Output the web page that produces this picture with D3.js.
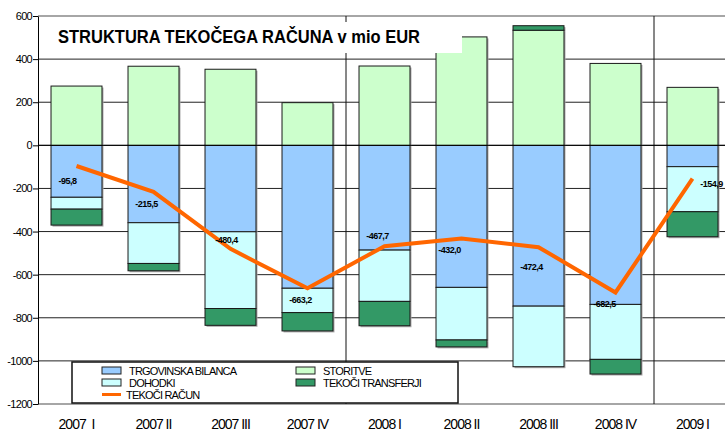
<!DOCTYPE html>
<html>
<head>
<meta charset="utf-8">
<script src="https://cdn.jsdelivr.net/npm/d3@7"></script>
<style>
  body { margin: 0; background: #fff; }
  svg { display: block; font-family: Arial, "Liberation Sans", sans-serif; }
</style>
</head>
<body>
<svg width="725" height="432"></svg>
<script>
// quarters
const quarters = ['2007  I', '2007 II', '2007 III', '2007 IV', '2008 I', '2008 II', '2008 III', '2008 IV', '2009 I'];

// components of the current account, mio EUR
const trgovinska = [-241, -359, -401, -663, -486, -659, -746, -738, -99];
const storitve = [275, 367, 353, 198, 368, 503, 534, 380, 269];
const dohodki = [-55, -189, -356, -113, -238, -244, -281, -255, -209];
const transferji = [-74, -34, -78, -85, -113, -32, 21, -68, -116];
const tekociRacun = [-95.8, -215.5, -480.4, -663.2, -467.7, -432.0, -472.4, -682.5, -154.9];

const yTicks = [-1200, -1000, -800, -600, -400, -200, 0, 200, 400, 600];

// label placement (manual in the original chart)
const labelOffsets = [[-9, 18], [-7, 15], [-4, -6], [-7, 15], [-7, -7], [-12, 15], [-7, 23], [-11, 15], [19, 8]];

const svg = d3.select('svg');
const plotLeft = 38, plotRight = 731, plotTop = 16, plotBottom = 404;

// slovene style numbers, plain hyphen for minus
const si = d3.formatLocale({ decimal: ',', thousands: '.', grouping: [3], currency: ['', ' €'], minus: '-' });
const fmtTick = si.format('d');
const fmtLabel = si.format('.1f');

const x = d3.scaleBand().domain(quarters).range([plotLeft, plotRight]).paddingInner(0.338).paddingOuter(0.169);
const y = d3.scaleLinear().domain([-1200, 600]).range([plotBottom, plotTop]);

const keys = ['trgovinska', 'storitve', 'dohodki', 'transferji'];
const colors = { trgovinska: '#99ccff', storitve: '#ccffcc', dohodki: '#ccffff', transferji: '#339966' };
const rows = quarters.map((q, i) => ({
  q, trgovinska: trgovinska[i], storitve: storitve[i], dohodki: dohodki[i], transferji: transferji[i]
}));
const series = d3.stack().keys(keys).offset(d3.stackOffsetDiverging)(rows);

// grid
svg.append('g').selectAll('line').data(yTicks).join('line')
  .attr('x1', plotLeft).attr('x2', 725)
  .attr('y1', d => y(d)).attr('y2', d => y(d))
  .attr('stroke', d => (d === 600 || d === -1200) ? '#888' : '#222')
  .attr('stroke-width', d => (d === 600 || d === -1200) ? 1.5 : 1);

// year separators
svg.append('g').selectAll('line').data(['2008 I', '2009 I']).join('line')
  .attr('x1', d => x(d) - x.step() * x.paddingInner() / 2)
  .attr('x2', d => x(d) - x.step() * x.paddingInner() / 2)
  .attr('y1', plotTop).attr('y2', plotBottom)
  .attr('stroke', '#111').attr('stroke-width', 1);

// shadows
const segs = series.flatMap(s => s.map((d, i) => ({ key: s.key, q: quarters[i], y0: d[0], y1: d[1] })))
  .filter(d => d.y0 !== d.y1);

svg.append('g').selectAll('rect').data(segs).join('rect')
  .attr('x', d => x(d.q) + 1.5)
  .attr('y', d => y(Math.max(d.y0, d.y1)) + 1.5)
  .attr('width', x.bandwidth())
  .attr('height', d => Math.abs(y(d.y0) - y(d.y1)))
  .attr('fill', '#aaa');

svg.append('g').selectAll('rect').data(segs).join('rect')
  .attr('x', d => x(d.q))
  .attr('y', d => y(Math.max(d.y0, d.y1)))
  .attr('width', x.bandwidth())
  .attr('height', d => Math.abs(y(d.y0) - y(d.y1)))
  .attr('fill', d => colors[d.key])
  .attr('stroke', '#1a1a1a').attr('stroke-width', 1);

// zero line
svg.append('line').attr('x1', plotLeft).attr('x2', 725).attr('y1', y(0)).attr('y2', y(0))
  .attr('stroke', '#000').attr('stroke-width', 1);

// y axis
const yAxis = svg.append('g').attr('transform', `translate(${plotLeft},0)`)
  .call(d3.axisLeft(y).tickValues(yTicks).tickFormat(fmtTick).tickSize(5).tickPadding(1).tickSizeOuter(0));
yAxis.select('.domain').attr('stroke', '#000');
yAxis.selectAll('.tick line').attr('stroke', '#000');
yAxis.selectAll('text').attr('font-size', 11).attr('letter-spacing', -0.7).attr('fill', '#000')
  .attr('font-family', 'Arial, "Liberation Sans", sans-serif');

// x labels
svg.append('g').selectAll('text').data(quarters).join('text')
  .attr('x', d => x(d) + x.bandwidth() / 2)
  .attr('y', 429)
  .attr('text-anchor', 'middle')
  .attr('font-size', 14).attr('letter-spacing', -1)
  .style('white-space', 'pre')
  .text(d => d);

// current account line
const line = d3.line().x((d, i) => x(quarters[i]) + x.bandwidth() / 2).y(d => y(d));
svg.append('path').datum(tekociRacun)
  .attr('d', line).attr('fill', 'none')
  .attr('stroke', '#ff6600').attr('stroke-width', 4).attr('stroke-linejoin', 'miter');

svg.append('g').selectAll('text').data(tekociRacun).join('text')
  .attr('x', (d, i) => x(quarters[i]) + x.bandwidth() / 2 + labelOffsets[i][0])
  .attr('y', (d, i) => y(d) + labelOffsets[i][1])
  .attr('text-anchor', 'middle')
  .attr('font-size', 9).attr('font-weight', 'bold').attr('letter-spacing', -0.5)
  .text(d => fmtLabel(d));

// title
svg.append('rect').attr('x', 44).attr('y', 22).attr('width', 418).attr('height', 31).attr('fill', '#fff');
svg.append('text').attr('x', 58).attr('y', 42.5)
  .attr('font-size', 18).attr('font-weight', 'bold')
  .attr('textLength', 362).attr('lengthAdjust', 'spacingAndGlyphs')
  .text('STRUKTURA TEKOČEGA RAČUNA v mio EUR');

// legend
const legend = svg.append('g');
legend.append('rect').attr('x', 72).attr('y', 362).attr('width', 386).attr('height', 41)
  .attr('fill', '#fff').attr('stroke', '#111').attr('stroke-width', 1.5);

const legendItems = [
  { key: 'trgovinska', label: 'TRGOVINSKA BILANCA', col: 0, row: 0 },
  { key: 'dohodki', label: 'DOHODKI', col: 0, row: 1 },
  { key: 'line', label: 'TEKOČI RAČUN', col: 0, row: 2 },
  { key: 'storitve', label: 'STORITVE', col: 1, row: 0 },
  { key: 'transferji', label: 'TEKOČI TRANSFERJI', col: 1, row: 1 }
];
const colX = [102, 296];
legendItems.forEach(it => {
  const cx = colX[it.col], cy = 370.5 + it.row * 12;
  if (it.key === 'line') {
    legend.append('line').attr('x1', cx).attr('x2', cx + 19).attr('y1', cy).attr('y2', cy)
      .attr('stroke', '#ff6600').attr('stroke-width', 3);
  } else {
    legend.append('rect').attr('x', cx).attr('y', cy - 3.5).attr('width', 19).attr('height', 7)
      .attr('fill', colors[it.key]).attr('stroke', '#222').attr('stroke-width', 1);
  }
  legend.append('text').attr('x', it.key === 'line' ? cx + 24 : cx + 27).attr('y', cy + 4)
    .attr('font-size', 11).attr('letter-spacing', -0.8)
    .text(it.label);
});
</script>
</body>
</html>
